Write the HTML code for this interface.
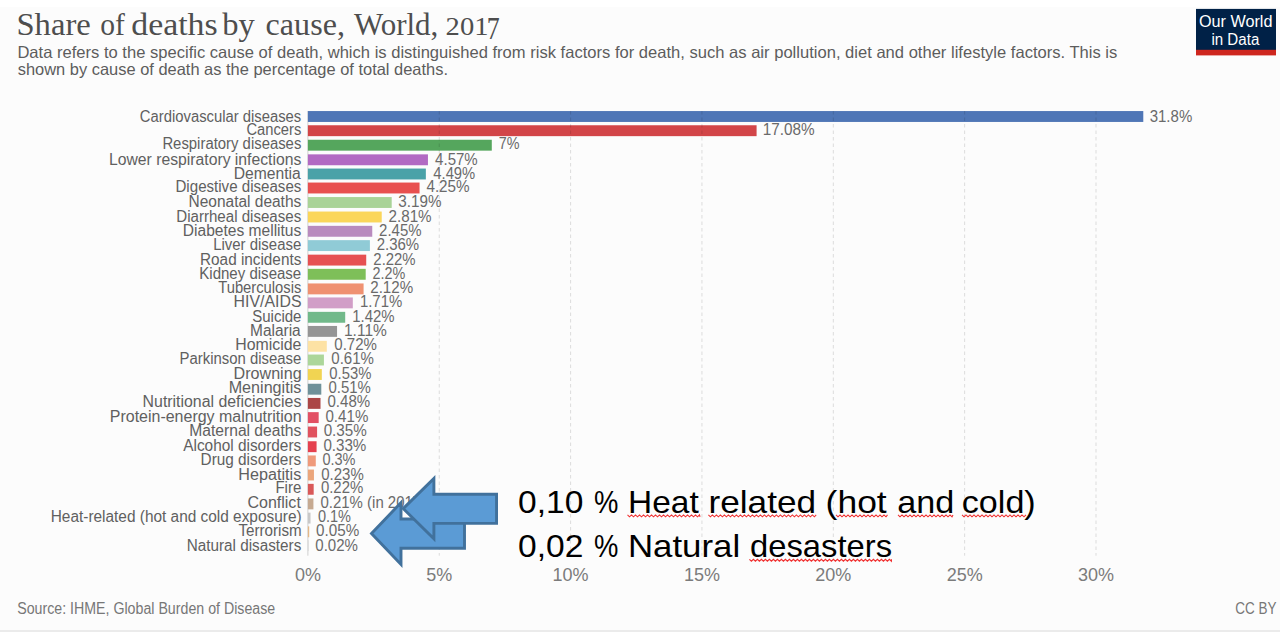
<!DOCTYPE html><html><head><meta charset="utf-8"><style>html,body{margin:0;padding:0;background:#fff;overflow:hidden}svg{display:block}</style></head><body>
<svg width="1280" height="632" viewBox="0 0 1280 632" font-family="Liberation Sans, sans-serif">
<rect x="0" y="0" width="1280" height="632" fill="#fff"/>
<rect x="0" y="7" width="1280" height="623" fill="#fcfcfc"/>
<rect x="0" y="630" width="1280" height="2" fill="#ebebeb"/>
<rect x="1196" y="8.9" width="80" height="41.1" fill="#002147"/>
<rect x="1196" y="49.8" width="80" height="5.6" fill="#ce261e"/>
<line x1="307.9" y1="111" x2="307.9" y2="555.7" stroke="#d0d0d0" stroke-width="1"/>
<rect x="307.90" y="111.05" width="835.39" height="10.9" fill="#4f76b6"/>
<rect x="307.90" y="125.25" width="448.69" height="10.9" fill="#d24548"/>
<rect x="307.90" y="139.75" width="183.89" height="10.9" fill="#55a65d"/>
<rect x="307.90" y="154.35" width="120.05" height="10.9" fill="#b26ac3"/>
<rect x="307.90" y="168.55" width="117.95" height="10.9" fill="#4aa2a8"/>
<rect x="307.90" y="182.55" width="111.65" height="10.9" fill="#e8504f"/>
<rect x="307.90" y="197.05" width="83.80" height="10.9" fill="#a9d397"/>
<rect x="307.90" y="211.55" width="73.82" height="10.9" fill="#fbd65a"/>
<rect x="307.90" y="225.85" width="64.36" height="10.9" fill="#b98bbe"/>
<rect x="307.90" y="240.15" width="62.00" height="10.9" fill="#90cbd6"/>
<rect x="307.90" y="254.65" width="58.32" height="10.9" fill="#e65052"/>
<rect x="307.90" y="268.85" width="57.79" height="10.9" fill="#7ebf59"/>
<rect x="307.90" y="283.45" width="55.69" height="10.9" fill="#ef9171"/>
<rect x="307.90" y="297.45" width="44.92" height="10.9" fill="#d19ec7"/>
<rect x="307.90" y="311.85" width="37.30" height="10.9" fill="#71b98a"/>
<rect x="307.90" y="325.95" width="29.16" height="10.9" fill="#959595"/>
<rect x="307.90" y="340.85" width="18.91" height="10.9" fill="#fde2a4"/>
<rect x="307.90" y="354.55" width="16.02" height="10.9" fill="#acd69a"/>
<rect x="307.90" y="369.05" width="13.92" height="10.9" fill="#f1d452"/>
<rect x="307.90" y="383.75" width="13.40" height="10.9" fill="#6f9199"/>
<rect x="307.90" y="397.95" width="12.61" height="10.9" fill="#ab4646"/>
<rect x="307.90" y="412.15" width="10.77" height="10.9" fill="#e25064"/>
<rect x="307.90" y="426.55" width="9.19" height="10.9" fill="#e0525f"/>
<rect x="307.90" y="441.25" width="8.67" height="10.9" fill="#e5414f"/>
<rect x="307.90" y="455.45" width="7.88" height="10.9" fill="#ef9a7b"/>
<rect x="307.90" y="469.55" width="6.04" height="10.9" fill="#eba67c"/>
<rect x="307.90" y="483.85" width="5.78" height="10.9" fill="#d95959"/>
<rect x="307.90" y="498.45" width="5.52" height="10.9" fill="#c6aa92"/>
<rect x="307.90" y="512.65" width="2.63" height="10.9" fill="#c8c8c8"/>
<rect x="307.90" y="526.35" width="1.31" height="10.9" fill="#e4b887"/>
<rect x="307.90" y="540.15" width="0.53" height="10.9" fill="#cfcfcf"/>
<line x1="439.25" y1="111" x2="439.25" y2="555.7" stroke="#000" stroke-opacity="0.13" stroke-width="1" stroke-dasharray="3.5,3"/>
<line x1="570.60" y1="111" x2="570.60" y2="555.7" stroke="#000" stroke-opacity="0.13" stroke-width="1" stroke-dasharray="3.5,3"/>
<line x1="701.95" y1="111" x2="701.95" y2="555.7" stroke="#000" stroke-opacity="0.13" stroke-width="1" stroke-dasharray="3.5,3"/>
<line x1="833.30" y1="111" x2="833.30" y2="555.7" stroke="#000" stroke-opacity="0.13" stroke-width="1" stroke-dasharray="3.5,3"/>
<line x1="964.65" y1="111" x2="964.65" y2="555.7" stroke="#000" stroke-opacity="0.13" stroke-width="1" stroke-dasharray="3.5,3"/>
<line x1="1096.00" y1="111" x2="1096.00" y2="555.7" stroke="#000" stroke-opacity="0.13" stroke-width="1" stroke-dasharray="3.5,3"/>
<text x="16.48" y="35.20" font-family="Liberation Serif, serif" font-size="31.5" fill="#4e4e4e" textLength="74.29" lengthAdjust="spacingAndGlyphs">Share</text>
<text x="100.21" y="35.20" font-family="Liberation Serif, serif" font-size="31.5" fill="#4e4e4e" textLength="24.64" lengthAdjust="spacingAndGlyphs">of</text>
<text x="131.28" y="35.20" font-family="Liberation Serif, serif" font-size="31.5" fill="#4e4e4e" textLength="86.43" lengthAdjust="spacingAndGlyphs">deaths</text>
<text x="222.25" y="35.20" font-family="Liberation Serif, serif" font-size="31.5" fill="#4e4e4e" textLength="32.50" lengthAdjust="spacingAndGlyphs">by</text>
<text x="265.63" y="35.20" font-family="Liberation Serif, serif" font-size="31.5" fill="#4e4e4e" textLength="79.28" lengthAdjust="spacingAndGlyphs">cause,</text>
<text x="353.95" y="35.20" font-family="Liberation Serif, serif" font-size="31.5" fill="#4e4e4e" textLength="84.40" lengthAdjust="spacingAndGlyphs">World,</text>
<text x="445.61" y="35.30" font-family="Liberation Serif, serif" font-size="25.0" fill="#4e4e4e" textLength="42.86" lengthAdjust="spacingAndGlyphs">201</text>
<text x="486.85" y="38.80" font-family="Liberation Serif, serif" font-size="30.5" fill="#4e4e4e" textLength="12.93" lengthAdjust="spacingAndGlyphs">7</text>
<text x="17.40" y="57.60" font-family="Liberation Sans, sans-serif" font-size="16.5" fill="#5d5d5d" textLength="1099.90" lengthAdjust="spacingAndGlyphs">Data refers to the specific cause of death, which is distinguished from risk factors for death, such as air pollution, diet and other lifestyle factors. This is</text>
<text x="17.75" y="74.60" font-family="Liberation Sans, sans-serif" font-size="16.5" fill="#5d5d5d" textLength="430.24" lengthAdjust="spacingAndGlyphs">shown by cause of death as the percentage of total deaths.</text>
<text x="1198.99" y="27.10" font-family="Liberation Sans, sans-serif" font-size="16" fill="#ffffff" textLength="73.43" lengthAdjust="spacingAndGlyphs">Our World</text>
<text x="1211.41" y="44.80" font-family="Liberation Sans, sans-serif" font-size="16" fill="#ffffff" textLength="47.90" lengthAdjust="spacingAndGlyphs">in Data</text>
<text x="139.86" y="122.30" font-family="Liberation Sans, sans-serif" font-size="16" fill="#606060" textLength="161.42" lengthAdjust="spacingAndGlyphs">Cardiovascular diseases</text>
<text x="246.46" y="135.00" font-family="Liberation Sans, sans-serif" font-size="16" fill="#606060" textLength="54.82" lengthAdjust="spacingAndGlyphs">Cancers</text>
<text x="162.39" y="149.30" font-family="Liberation Sans, sans-serif" font-size="16" fill="#606060" textLength="138.97" lengthAdjust="spacingAndGlyphs">Respiratory diseases</text>
<text x="108.92" y="164.50" font-family="Liberation Sans, sans-serif" font-size="16" fill="#606060" textLength="192.46" lengthAdjust="spacingAndGlyphs">Lower respiratory infections</text>
<text x="233.63" y="178.60" font-family="Liberation Sans, sans-serif" font-size="16" fill="#606060" textLength="67.11" lengthAdjust="spacingAndGlyphs" clip-path="url(#c1775)">Dementia</text>
<text x="175.47" y="192.30" font-family="Liberation Sans, sans-serif" font-size="16" fill="#606060" textLength="125.90" lengthAdjust="spacingAndGlyphs">Digestive diseases</text>
<text x="188.54" y="207.20" font-family="Liberation Sans, sans-serif" font-size="16" fill="#606060" textLength="112.72" lengthAdjust="spacingAndGlyphs">Neonatal deaths</text>
<text x="176.27" y="222.00" font-family="Liberation Sans, sans-serif" font-size="16" fill="#606060" textLength="124.97" lengthAdjust="spacingAndGlyphs">Diarrheal diseases</text>
<text x="182.83" y="235.90" font-family="Liberation Sans, sans-serif" font-size="16" fill="#606060" textLength="118.48" lengthAdjust="spacingAndGlyphs">Diabetes mellitus</text>
<text x="213.18" y="249.90" font-family="Liberation Sans, sans-serif" font-size="16" fill="#606060" textLength="88.06" lengthAdjust="spacingAndGlyphs">Liver disease</text>
<text x="200.05" y="264.60" font-family="Liberation Sans, sans-serif" font-size="16" fill="#606060" textLength="101.26" lengthAdjust="spacingAndGlyphs">Road incidents</text>
<text x="199.28" y="278.60" font-family="Liberation Sans, sans-serif" font-size="16" fill="#606060" textLength="101.96" lengthAdjust="spacingAndGlyphs">Kidney disease</text>
<text x="218.22" y="292.80" font-family="Liberation Sans, sans-serif" font-size="16" fill="#606060" textLength="83.09" lengthAdjust="spacingAndGlyphs" clip-path="url(#c2916)">Tuberculosis</text>
<text x="233.61" y="307.00" font-family="Liberation Sans, sans-serif" font-size="16" fill="#606060" textLength="67.85" lengthAdjust="spacingAndGlyphs">HIV/AIDS</text>
<text x="252.25" y="321.70" font-family="Liberation Sans, sans-serif" font-size="16" fill="#606060" textLength="49.19" lengthAdjust="spacingAndGlyphs">Suicide</text>
<text x="250.04" y="335.70" font-family="Liberation Sans, sans-serif" font-size="16" fill="#606060" textLength="50.68" lengthAdjust="spacingAndGlyphs">Malaria</text>
<text x="235.31" y="350.10" font-family="Liberation Sans, sans-serif" font-size="16" fill="#606060" textLength="66.12" lengthAdjust="spacingAndGlyphs" clip-path="url(#c3488)">Homicide</text>
<text x="179.59" y="364.40" font-family="Liberation Sans, sans-serif" font-size="16" fill="#606060" textLength="121.63" lengthAdjust="spacingAndGlyphs">Parkinson disease</text>
<text x="233.59" y="378.80" font-family="Liberation Sans, sans-serif" font-size="16" fill="#606060" textLength="68.01" lengthAdjust="spacingAndGlyphs">Drowning</text>
<text x="228.69" y="392.80" font-family="Liberation Sans, sans-serif" font-size="16" fill="#606060" textLength="72.60" lengthAdjust="spacingAndGlyphs">Meningitis</text>
<text x="142.61" y="406.70" font-family="Liberation Sans, sans-serif" font-size="16" fill="#606060" textLength="158.71" lengthAdjust="spacingAndGlyphs">Nutritional deficiencies</text>
<text x="109.80" y="421.50" font-family="Liberation Sans, sans-serif" font-size="16" fill="#606060" textLength="191.79" lengthAdjust="spacingAndGlyphs">Protein-energy malnutrition</text>
<text x="189.33" y="436.00" font-family="Liberation Sans, sans-serif" font-size="16" fill="#606060" textLength="111.89" lengthAdjust="spacingAndGlyphs">Maternal deaths</text>
<text x="183.25" y="450.80" font-family="Liberation Sans, sans-serif" font-size="16" fill="#606060" textLength="117.97" lengthAdjust="spacingAndGlyphs">Alcohol disorders</text>
<text x="200.55" y="465.20" font-family="Liberation Sans, sans-serif" font-size="16" fill="#606060" textLength="100.62" lengthAdjust="spacingAndGlyphs">Drug disorders</text>
<text x="238.39" y="479.50" font-family="Liberation Sans, sans-serif" font-size="16" fill="#606060" textLength="62.87" lengthAdjust="spacingAndGlyphs">Hepatitis</text>
<text x="275.38" y="493.30" font-family="Liberation Sans, sans-serif" font-size="16" fill="#606060" textLength="25.90" lengthAdjust="spacingAndGlyphs">Fire</text>
<text x="247.40" y="508.00" font-family="Liberation Sans, sans-serif" font-size="16" fill="#606060" textLength="53.46" lengthAdjust="spacingAndGlyphs">Conflict</text>
<text x="50.75" y="522.20" font-family="Liberation Sans, sans-serif" font-size="16" fill="#606060" textLength="250.82" lengthAdjust="spacingAndGlyphs">Heat-related (hot and cold exposure)</text>
<text x="238.41" y="536.10" font-family="Liberation Sans, sans-serif" font-size="16" fill="#606060" textLength="63.21" lengthAdjust="spacingAndGlyphs">Terrorism</text>
<text x="186.76" y="550.60" font-family="Liberation Sans, sans-serif" font-size="16" fill="#606060" textLength="114.51" lengthAdjust="spacingAndGlyphs">Natural disasters</text>
<text x="1149.68" y="122.30" font-family="Liberation Sans, sans-serif" font-size="16" fill="#6a6a6a" textLength="42.56" lengthAdjust="spacingAndGlyphs">31.8%</text>
<text x="762.79" y="135.00" font-family="Liberation Sans, sans-serif" font-size="16" fill="#6a6a6a" textLength="51.95" lengthAdjust="spacingAndGlyphs">17.08%</text>
<text x="498.68" y="149.30" font-family="Liberation Sans, sans-serif" font-size="16" fill="#6a6a6a" textLength="20.73" lengthAdjust="spacingAndGlyphs">7%</text>
<text x="435.12" y="164.50" font-family="Liberation Sans, sans-serif" font-size="16" fill="#6a6a6a" textLength="42.62" lengthAdjust="spacingAndGlyphs">4.57%</text>
<text x="433.32" y="178.60" font-family="Liberation Sans, sans-serif" font-size="16" fill="#6a6a6a" textLength="41.91" lengthAdjust="spacingAndGlyphs" clip-path="url(#c1775)">4.49%</text>
<text x="426.41" y="192.30" font-family="Liberation Sans, sans-serif" font-size="16" fill="#6a6a6a" textLength="43.23" lengthAdjust="spacingAndGlyphs">4.25%</text>
<text x="398.37" y="207.20" font-family="Liberation Sans, sans-serif" font-size="16" fill="#6a6a6a" textLength="43.17" lengthAdjust="spacingAndGlyphs">3.19%</text>
<text x="388.54" y="222.00" font-family="Liberation Sans, sans-serif" font-size="16" fill="#6a6a6a" textLength="43.11" lengthAdjust="spacingAndGlyphs">2.81%</text>
<text x="379.11" y="235.90" font-family="Liberation Sans, sans-serif" font-size="16" fill="#6a6a6a" textLength="42.43" lengthAdjust="spacingAndGlyphs">2.45%</text>
<text x="376.75" y="249.90" font-family="Liberation Sans, sans-serif" font-size="16" fill="#6a6a6a" textLength="42.43" lengthAdjust="spacingAndGlyphs">2.36%</text>
<text x="373.35" y="264.60" font-family="Liberation Sans, sans-serif" font-size="16" fill="#6a6a6a" textLength="42.28" lengthAdjust="spacingAndGlyphs">2.22%</text>
<text x="372.58" y="278.60" font-family="Liberation Sans, sans-serif" font-size="16" fill="#6a6a6a" textLength="32.80" lengthAdjust="spacingAndGlyphs">2.2%</text>
<text x="370.24" y="292.80" font-family="Liberation Sans, sans-serif" font-size="16" fill="#6a6a6a" textLength="42.90" lengthAdjust="spacingAndGlyphs" clip-path="url(#c2916)">2.12%</text>
<text x="359.92" y="307.00" font-family="Liberation Sans, sans-serif" font-size="16" fill="#6a6a6a" textLength="42.32" lengthAdjust="spacingAndGlyphs">1.71%</text>
<text x="352.32" y="321.70" font-family="Liberation Sans, sans-serif" font-size="16" fill="#6a6a6a" textLength="42.32" lengthAdjust="spacingAndGlyphs">1.42%</text>
<text x="343.98" y="335.70" font-family="Liberation Sans, sans-serif" font-size="16" fill="#6a6a6a" textLength="42.90" lengthAdjust="spacingAndGlyphs">1.11%</text>
<text x="334.28" y="350.10" font-family="Liberation Sans, sans-serif" font-size="16" fill="#6a6a6a" textLength="42.66" lengthAdjust="spacingAndGlyphs" clip-path="url(#c3488)">0.72%</text>
<text x="331.28" y="364.40" font-family="Liberation Sans, sans-serif" font-size="16" fill="#6a6a6a" textLength="42.66" lengthAdjust="spacingAndGlyphs">0.61%</text>
<text x="329.29" y="378.80" font-family="Liberation Sans, sans-serif" font-size="16" fill="#6a6a6a" textLength="42.04" lengthAdjust="spacingAndGlyphs">0.53%</text>
<text x="328.48" y="392.80" font-family="Liberation Sans, sans-serif" font-size="16" fill="#6a6a6a" textLength="42.35" lengthAdjust="spacingAndGlyphs">0.51%</text>
<text x="327.48" y="406.70" font-family="Liberation Sans, sans-serif" font-size="16" fill="#6a6a6a" textLength="42.66" lengthAdjust="spacingAndGlyphs">0.48%</text>
<text x="325.48" y="421.50" font-family="Liberation Sans, sans-serif" font-size="16" fill="#6a6a6a" textLength="42.86" lengthAdjust="spacingAndGlyphs">0.41%</text>
<text x="323.67" y="436.00" font-family="Liberation Sans, sans-serif" font-size="16" fill="#6a6a6a" textLength="43.17" lengthAdjust="spacingAndGlyphs">0.35%</text>
<text x="323.38" y="450.80" font-family="Liberation Sans, sans-serif" font-size="16" fill="#6a6a6a" textLength="42.97" lengthAdjust="spacingAndGlyphs">0.33%</text>
<text x="322.40" y="465.20" font-family="Liberation Sans, sans-serif" font-size="16" fill="#6a6a6a" textLength="33.08" lengthAdjust="spacingAndGlyphs">0.3%</text>
<text x="321.18" y="479.50" font-family="Liberation Sans, sans-serif" font-size="16" fill="#6a6a6a" textLength="42.56" lengthAdjust="spacingAndGlyphs">0.23%</text>
<text x="320.88" y="493.30" font-family="Liberation Sans, sans-serif" font-size="16" fill="#6a6a6a" textLength="42.35" lengthAdjust="spacingAndGlyphs">0.22%</text>
<text x="320.50" y="508.00" font-family="Liberation Sans, sans-serif" font-size="16" fill="#6a6a6a" textLength="105.63" lengthAdjust="spacingAndGlyphs">0.21% (in 2017)</text>
<text x="317.90" y="522.20" font-family="Liberation Sans, sans-serif" font-size="16" fill="#6a6a6a" textLength="33.08" lengthAdjust="spacingAndGlyphs">0.1%</text>
<text x="316.07" y="536.10" font-family="Liberation Sans, sans-serif" font-size="16" fill="#6a6a6a" textLength="43.17" lengthAdjust="spacingAndGlyphs">0.05%</text>
<text x="315.28" y="550.60" font-family="Liberation Sans, sans-serif" font-size="16" fill="#6a6a6a" textLength="42.66" lengthAdjust="spacingAndGlyphs">0.02%</text>
<text x="17.18" y="614.20" font-family="Liberation Sans, sans-serif" font-size="15.8" fill="#777777" textLength="258.04" lengthAdjust="spacingAndGlyphs">Source: IHME, Global Burden of Disease</text>
<text x="1235.22" y="614.00" font-family="Liberation Sans, sans-serif" font-size="16.0" fill="#777777" textLength="41.28" lengthAdjust="spacingAndGlyphs">CC BY</text>
<text x="518.14" y="513.00" font-family="Liberation Sans, sans-serif" font-size="32" fill="#000000" textLength="65.29" lengthAdjust="spacingAndGlyphs">0,10</text>
<text x="593.89" y="513.00" font-family="Liberation Sans, sans-serif" font-size="32" fill="#000000" textLength="24.37" lengthAdjust="spacingAndGlyphs">%</text>
<text x="628.03" y="513.00" font-family="Liberation Sans, sans-serif" font-size="32" fill="#000000" textLength="70.71" lengthAdjust="spacingAndGlyphs">Heat</text>
<text x="708.45" y="513.00" font-family="Liberation Sans, sans-serif" font-size="32" fill="#000000" textLength="107.71" lengthAdjust="spacingAndGlyphs">related</text>
<text x="825.63" y="513.00" font-family="Liberation Sans, sans-serif" font-size="32" fill="#000000" textLength="61.07" lengthAdjust="spacingAndGlyphs">(hot</text>
<text x="897.21" y="513.00" font-family="Liberation Sans, sans-serif" font-size="32" fill="#000000" textLength="57.06" lengthAdjust="spacingAndGlyphs">and</text>
<text x="961.82" y="513.00" font-family="Liberation Sans, sans-serif" font-size="32" fill="#000000" textLength="73.91" lengthAdjust="spacingAndGlyphs">cold)</text>
<text x="518.14" y="557.40" font-family="Liberation Sans, sans-serif" font-size="32" fill="#000000" textLength="65.32" lengthAdjust="spacingAndGlyphs">0,02</text>
<text x="593.89" y="557.40" font-family="Liberation Sans, sans-serif" font-size="32" fill="#000000" textLength="24.37" lengthAdjust="spacingAndGlyphs">%</text>
<text x="627.93" y="557.40" font-family="Liberation Sans, sans-serif" font-size="32" fill="#000000" textLength="112.19" lengthAdjust="spacingAndGlyphs">Natural</text>
<text x="750.07" y="557.40" font-family="Liberation Sans, sans-serif" font-size="32" fill="#000000" textLength="141.99" lengthAdjust="spacingAndGlyphs">desasters</text>
<text x="307.90" y="581" font-size="18" fill="#7b7b7b" text-anchor="middle">0%</text>
<text x="439.25" y="581" font-size="18" fill="#7b7b7b" text-anchor="middle">5%</text>
<text x="570.60" y="581" font-size="18" fill="#7b7b7b" text-anchor="middle">10%</text>
<text x="701.95" y="581" font-size="18" fill="#7b7b7b" text-anchor="middle">15%</text>
<text x="833.30" y="581" font-size="18" fill="#7b7b7b" text-anchor="middle">20%</text>
<text x="964.65" y="581" font-size="18" fill="#7b7b7b" text-anchor="middle">25%</text>
<text x="1096.00" y="581" font-size="18" fill="#7b7b7b" text-anchor="middle">30%</text>
<polygon points="371.50,533.60 401.00,502.60 401.00,519.00 464.50,519.00 464.50,548.20 401.00,548.20 401.00,564.40" fill="#5b9bd5" stroke="#41719c" stroke-width="2.9"/>
<polygon points="403.20,508.60 433.90,478.40 433.90,494.25 496.55,494.25 496.55,523.35 433.90,523.35 433.90,538.90" fill="#5b9bd5" stroke="#41719c" stroke-width="2.9"/>
<path d="M627.5,514.9 L629.5,516.8 L631.5,514.9 L633.5,516.8 L635.5,514.9 L637.5,516.8 L639.5,514.9 L641.5,516.8 L643.5,514.9 L645.5,516.8 L647.5,514.9 L649.5,516.8 L651.5,514.9 L653.5,516.8 L655.5,514.9 L657.5,516.8 L659.5,514.9 L661.5,516.8 L663.5,514.9 L665.5,516.8 L667.5,514.9 L669.5,516.8 L671.5,514.9 L673.5,516.8 L675.5,514.9 L677.5,516.8 L679.5,514.9 L681.5,516.8 L683.5,514.9 L685.5,516.8 L687.5,514.9 L689.5,516.8 L691.5,514.9 L693.5,516.8 L695.5,514.9 L697.5,516.8 L699.5,514.9 L700.0,516.8" fill="none" stroke="#f03030" stroke-width="1.1"/>
<path d="M708.4,514.9 L710.4,516.8 L712.4,514.9 L714.4,516.8 L716.4,514.9 L718.4,516.8 L720.4,514.9 L722.4,516.8 L724.4,514.9 L726.4,516.8 L728.4,514.9 L730.4,516.8 L732.4,514.9 L734.4,516.8 L736.4,514.9 L738.4,516.8 L740.4,514.9 L742.4,516.8 L744.4,514.9 L746.4,516.8 L748.4,514.9 L750.4,516.8 L752.4,514.9 L754.4,516.8 L756.4,514.9 L758.4,516.8 L760.4,514.9 L762.4,516.8 L764.4,514.9 L766.4,516.8 L768.4,514.9 L770.4,516.8 L772.4,514.9 L774.4,516.8 L776.4,514.9 L778.4,516.8 L780.4,514.9 L782.4,516.8 L784.4,514.9 L786.4,516.8 L788.4,514.9 L790.4,516.8 L792.4,514.9 L794.4,516.8 L796.4,514.9 L798.4,516.8 L800.4,514.9 L802.4,516.8 L804.4,514.9 L806.4,516.8 L808.4,514.9 L810.4,516.8 L812.4,514.9 L814.4,516.8 L816.2,514.9" fill="none" stroke="#f03030" stroke-width="1.1"/>
<path d="M836.0,514.9 L838.0,516.8 L840.0,514.9 L842.0,516.8 L844.0,514.9 L846.0,516.8 L848.0,514.9 L850.0,516.8 L852.0,514.9 L854.0,516.8 L856.0,514.9 L858.0,516.8 L860.0,514.9 L862.0,516.8 L864.0,514.9 L866.0,516.8 L868.0,514.9 L870.0,516.8 L872.0,514.9 L874.0,516.8 L876.0,514.9 L878.0,516.8 L880.0,514.9 L882.0,516.8 L884.0,514.9 L886.0,516.8 L887.5,514.9" fill="none" stroke="#f03030" stroke-width="1.1"/>
<path d="M898.0,514.9 L900.0,516.8 L902.0,514.9 L904.0,516.8 L906.0,514.9 L908.0,516.8 L910.0,514.9 L912.0,516.8 L914.0,514.9 L916.0,516.8 L918.0,514.9 L920.0,516.8 L922.0,514.9 L924.0,516.8 L926.0,514.9 L928.0,516.8 L930.0,514.9 L932.0,516.8 L934.0,514.9 L936.0,516.8 L938.0,514.9 L940.0,516.8 L942.0,514.9 L944.0,516.8 L946.0,514.9 L948.0,516.8 L950.0,514.9 L952.0,516.8 L953.0,514.9" fill="none" stroke="#f03030" stroke-width="1.1"/>
<path d="M962.0,514.9 L964.0,516.8 L966.0,514.9 L968.0,516.8 L970.0,514.9 L972.0,516.8 L974.0,514.9 L976.0,516.8 L978.0,514.9 L980.0,516.8 L982.0,514.9 L984.0,516.8 L986.0,514.9 L988.0,516.8 L990.0,514.9 L992.0,516.8 L994.0,514.9 L996.0,516.8 L998.0,514.9 L1000.0,516.8 L1002.0,514.9 L1004.0,516.8 L1006.0,514.9 L1008.0,516.8 L1010.0,514.9 L1012.0,516.8 L1014.0,514.9 L1016.0,516.8 L1018.0,514.9 L1020.0,516.8 L1022.0,514.9 L1024.0,516.8 L1026.0,514.9" fill="none" stroke="#f03030" stroke-width="1.1"/>
<path d="M749.4,559.3 L751.4,561.2 L753.4,559.3 L755.4,561.2 L757.4,559.3 L759.4,561.2 L761.4,559.3 L763.4,561.2 L765.4,559.3 L767.4,561.2 L769.4,559.3 L771.4,561.2 L773.4,559.3 L775.4,561.2 L777.4,559.3 L779.4,561.2 L781.4,559.3 L783.4,561.2 L785.4,559.3 L787.4,561.2 L789.4,559.3 L791.4,561.2 L793.4,559.3 L795.4,561.2 L797.4,559.3 L799.4,561.2 L801.4,559.3 L803.4,561.2 L805.4,559.3 L807.4,561.2 L809.4,559.3 L811.4,561.2 L813.4,559.3 L815.4,561.2 L817.4,559.3 L819.4,561.2 L821.4,559.3 L823.4,561.2 L825.4,559.3 L827.4,561.2 L829.4,559.3 L831.4,561.2 L833.4,559.3 L835.4,561.2 L837.4,559.3 L839.4,561.2 L841.4,559.3 L843.4,561.2 L845.4,559.3 L847.4,561.2 L849.4,559.3 L851.4,561.2 L853.4,559.3 L855.4,561.2 L857.4,559.3 L859.4,561.2 L861.4,559.3 L863.4,561.2 L865.4,559.3 L867.4,561.2 L869.4,559.3 L871.4,561.2 L873.4,559.3 L875.4,561.2 L877.4,559.3 L879.4,561.2 L881.4,559.3 L883.4,561.2 L885.4,559.3 L887.4,561.2 L889.4,559.3 L891.4,561.2 L891.5,559.3" fill="none" stroke="#f03030" stroke-width="1.1"/>
</svg></body></html>
